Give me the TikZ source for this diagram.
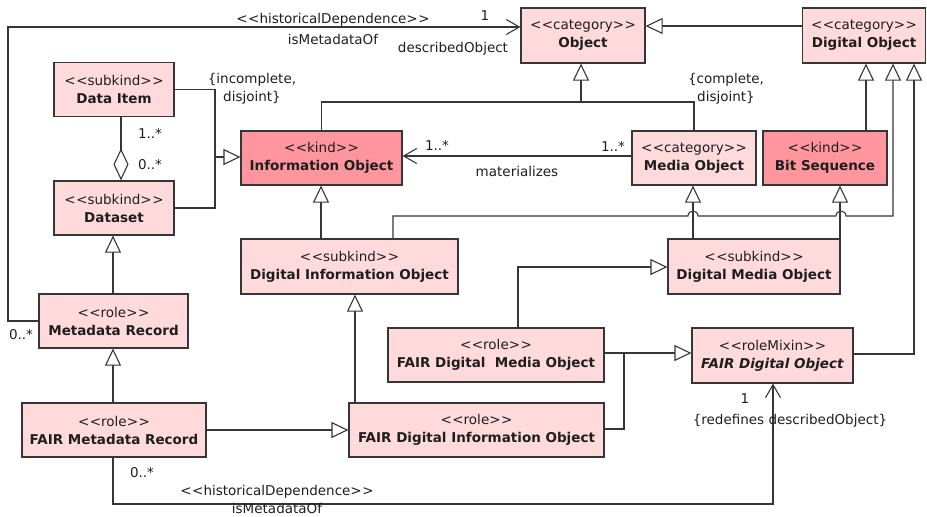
\documentclass[tikz,border=0pt]{standalone}
\usepackage{fontspec}
\setmainfont{DejaVu Sans}
\usetikzlibrary{arrows.meta,calc}
\newcommand\stereo[1]{<\kern0.5pt<#1>\kern0.5pt>}
\definecolor{lightpink}{HTML}{FFDADD}
\definecolor{kindpink}{HTML}{FF969E}
\definecolor{umlline}{HTML}{363636}
\definecolor{umltext}{HTML}{1E1E1E}
\begin{document}
\begin{tikzpicture}[x=1pt,y=-1pt,
  font=\fontsize{13.5}{18}\selectfont,
  umlbox/.style={draw=umlline, line width=1.2pt, fill=lightpink, text=umltext, align=center, inner sep=0pt, minimum height=54pt},
  kindbox/.style={umlbox, fill=kindpink},
  conn/.style={draw=umlline, line width=1.1pt},
  gen/.style={conn, -{Triangle[length=17pt,width=16pt,fill=white]}},
  dep/.style={conn, -{Straight Barb[length=13pt,width=15pt]}},
  lab/.style={inner sep=0pt, text=umltext}]
\useasboundingbox (0,0) rectangle (927,517);

% boxes
\node[umlbox, minimum width=120pt] (dataitem) at (114,89.5) {\stereo{subkind}\\\textbf{Data Item}};
\node[umlbox, minimum width=120pt] (dataset) at (114,208) {\stereo{subkind}\\\textbf{Dataset}};
\node[kindbox, minimum width=161pt] (infoobj) at (321.5,158) {\stereo{kind}\\\textbf{Information Object}};
\node[umlbox, minimum width=124pt, minimum height=55pt] (object) at (583,35.5) {\stereo{category}\\\textbf{Object}};
\node[umlbox, minimum width=123pt, minimum height=55pt] (digobj) at (864,35.5) {\stereo{category}\\\textbf{Digital Object}};
\node[umlbox, minimum width=124pt] (mediaobj) at (694,158) {\stereo{category}\\\textbf{Media Object}};
\node[kindbox, minimum width=124pt] (bitseq) at (825,158) {\stereo{kind}\\\textbf{Bit Sequence}};
\node[umlbox, minimum width=217pt, minimum height=55pt] (dio) at (349.5,266.5) {\stereo{subkind}\\\textbf{Digital Information Object}};
\node[umlbox, minimum width=172pt, minimum height=55pt] (dmo) at (754,266.5) {\stereo{subkind}\\\textbf{Digital Media Object}};
\node[umlbox, minimum width=149pt] (mr) at (113.5,321) {\stereo{role}\\\textbf{Metadata Record}};
\node[umlbox, minimum width=216pt] (fdmo) at (496,355) {\stereo{role}\\\textbf{FAIR Digital\ \ Media Object}};
\node[umlbox, minimum width=161pt, minimum height=55pt] (fdo) at (772.5,355.5) {\stereo{roleMixin}\\\textbf{\textit{FAIR Digital Object}}};
\node[umlbox, minimum width=184pt] (fmr) at (114,430) {\stereo{role}\\\textbf{FAIR Metadata Record}};
\node[umlbox, minimum width=255pt] (fdio) at (476.5,430) {\stereo{role}\\\textbf{FAIR Digital Information Object}};

% top historical dependence
\draw[dep] (mr.west) -- (8,321) |- (object.west |- 0,27);
% Digital Object -> Object
\draw[gen] (digobj.west |- 0,26) -- (object.east |- 0,26);
% generalization set of Object
\draw[conn] (infoobj.north) |- (mediaobj.north |- 0,102) -- (mediaobj.north);
\draw[gen] (581,102) -- (object.south -| 581,0);
% generalization set of Information Object
\draw[conn] (dataitem.east) -| (215,157) |- (dataset.east);
\draw[gen] (215,157) -- (infoobj.west |- 0,157);
% aggregation
\draw[conn, {Diamond[length=32pt,width=15pt,fill=white]}-] (dataset.north -| 121,0) -- (dataitem.south -| 121,0);
% materializes
\draw[dep] (mediaobj.west |- 0,156) -- (infoobj.east |- 0,156);
% role chain
\draw[gen] (mr.north -| 113,0) -- (dataset.south -| 113,0);
\draw[gen] (fmr.north -| 113,0) -- (mr.south -| 113,0);
\draw[gen] (fmr.east) -- (fdio.west);
\draw[gen] (fdio.north -| 355,0) -- (dio.south -| 355,0);
\draw[gen] (dio.north -| 321,0) -- (infoobj.south -| 321,0);
% Digital Information Object -> Digital Object (with line jumps)
\draw[gen] (dio.north -| 393,0) |- (688,216) .. controls (688,209.5) and (698,209.5) .. (698,216)
  -- (836,216) .. controls (836,209.5) and (846,209.5) .. (846,216)
  -- (893,216) -- (digobj.south -| 893,0);
% Digital Media Object
\draw[gen] (dmo.north -| 693,0) -- (mediaobj.south -| 693,0);
\draw[gen] (dmo.north -| 840,0) -- (bitseq.south -| 840,0);
% Bit Sequence -> Digital Object
\draw[gen] (bitseq.north -| 866,0) -- (digobj.south -| 866,0);
% FAIR Digital Object -> Digital Object
\draw[gen] (fdo.east |- 0,354) -| (digobj.south -| 914,0);
% FAIR Digital Media Object -> Digital Media Object
\draw[gen] (fdmo.north -| 518,0) |- (dmo.west |- 0,267);
% FAIR roles -> FAIR Digital Object
\draw[gen] (fdmo.east |- 0,353) -- (fdo.west |- 0,353);
\draw[conn] (fdio.east |- 0,429) -| (624,353);
% bottom historical dependence
\draw[dep] (fmr.south -| 113,0) |- (773,504) -- (fdo.south -| 773,0);

% labels
\node[lab] (hd1) at (333,20) {\stereo{historicalDependence}};
\node[lab] (imo1) at (333,39) {isMetadataOf};
\node[lab] (m1) at (485,16) {1};
\node[lab] (desc) at (453,49) {describedObject};
\node[lab] (m2) at (21,335) {0..*};
\node[lab,align=center] (incomp) at (252,89) {\{incomplete,\\disjoint\}};
\node[lab,align=center] (comp) at (726,89) {\{complete,\\disjoint\}};
\node[lab] (m3) at (150,133) {1..*};
\node[lab] (m4) at (150,165) {0..*};
\node[lab] (m5) at (437,145) {1..*};
\node[lab] (m6) at (613,146) {1..*};
\node[lab] (mat) at (517,171) {materializes};
\node[lab] (m7) at (142,473) {0..*};
\node[lab] (hd2) at (277,492) {\stereo{historicalDependence}};
\node[lab] (imo2) at (277,508.5) {isMetadataOf};
\node[lab] (m8) at (745,399) {1};
\node[lab] (redef) at (790,421) {\{redefines describedObject\}};
\end{tikzpicture}
\end{document}
